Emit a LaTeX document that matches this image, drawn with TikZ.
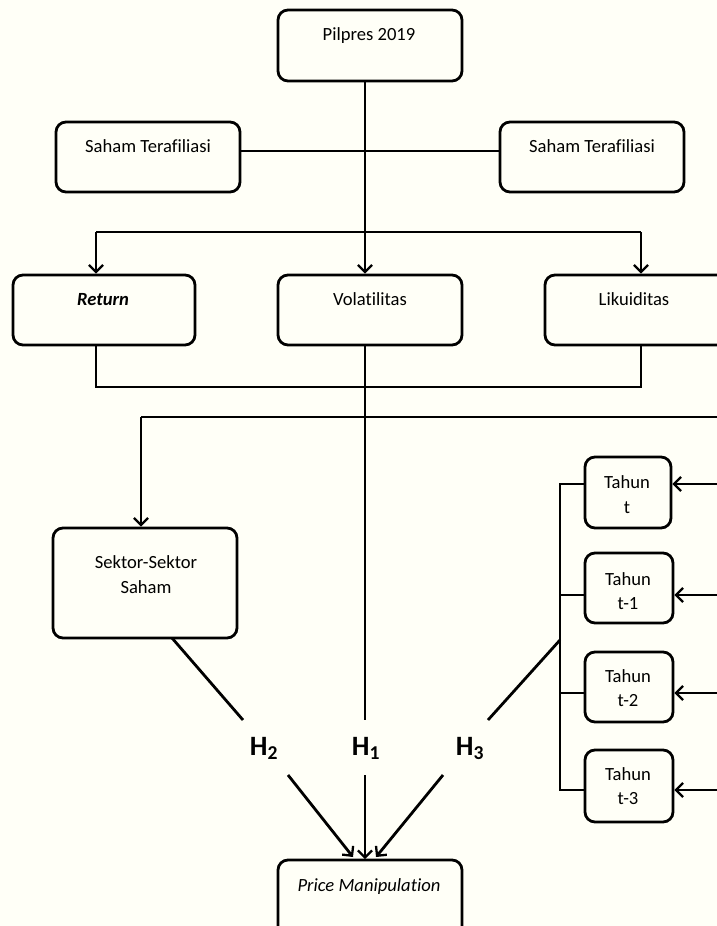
\documentclass[tikz,border=0pt]{standalone}
\usepackage{fontspec}
\setmainfont[Ligatures=NoCommon]{Carlito}
\usetikzlibrary{arrows.meta}
\begin{document}
\begin{tikzpicture}[x=1pt,y=-1pt, line width=2.8pt,
  box/.style={draw, rounded corners=10pt, line width=2.8pt, inner sep=0pt},
  lbl/.style={anchor=base, inner sep=0pt, font=\fontsize{18.6}{25}\selectfont},
  hyp/.style={anchor=base, inner sep=0pt, font=\fontsize{28}{30}\selectfont\bfseries},
  arr/.style={-{Straight Barb[length=7pt,width=14pt,line width=2.3pt]}},
]
\useasboundingbox (0,0) rectangle (717,926);
\clip (0,0) rectangle (717,926);
\fill[white!97!yellow] (0,0) rectangle (717,926);

% boxes
\node[box, minimum width=184pt, minimum height=71pt] (pil) at (370,45.5) {};
\node[box, minimum width=184pt, minimum height=70pt] (satl) at (148,157) {};
\node[box, minimum width=184pt, minimum height=70pt] (satr) at (592,157) {};
\node[box, minimum width=182pt, minimum height=70pt] (ret) at (104,310) {};
\node[box, minimum width=184pt, minimum height=70pt] (vol) at (370,310) {};
\node[box, minimum width=184pt, minimum height=70pt] (lik) at (637,310) {};
\node[box, minimum width=184pt, minimum height=110pt] (sek) at (145,583) {};
\node[box, minimum width=86pt, minimum height=71pt] (t0) at (628,492.5) {};
\node[box, minimum width=88pt, minimum height=70pt] (t1) at (629,588) {};
\node[box, minimum width=88pt, minimum height=70pt] (t2) at (629,687) {};
\node[box, minimum width=88pt, minimum height=72pt] (t3) at (629,786) {};
\node[box, minimum width=184pt, minimum height=80pt] (pm) at (370,900) {};

% texts
\node[lbl] (pilT) at (369,40) {Pilpres 2019};
\node[lbl] (satlT) at (148,152) {Saham Terafiliasi};
\node[lbl] (satrT) at (592,152) {Saham Terafiliasi};
\node[lbl, font=\fontsize{18.6}{25}\selectfont\bfseries\itshape] (retT) at (103,305) {Return};
\node[lbl] (volT) at (370,305) {Volatilitas};
\node[lbl] (likT) at (634,305) {Likuiditas};
\node[lbl] (sekT1) at (146,568) {Sektor-Sektor};
\node[lbl] (sekT2) at (146,593) {Saham};
\node[lbl] (t0a) at (627,488) {Tahun};
\node[lbl] (t0b) at (627,513) {t};
\node[lbl] (t1a) at (628,585) {Tahun};
\node[lbl] (t1b) at (628,609) {t-1};
\node[lbl] (t2a) at (628,682) {Tahun};
\node[lbl] (t2b) at (628,706) {t-2};
\node[lbl] (t3a) at (628,780) {Tahun};
\node[lbl] (t3b) at (628,804) {t-3};
\node[lbl, font=\fontsize{18.6}{25}\selectfont\itshape] (pmT) at (369,891) {Price Manipulation};
\node[hyp] (H2) at (264,755) {H\textsubscript{2}};
\node[hyp] (H1) at (366,755) {H\textsubscript{1}};
\node[hyp] (H3) at (470,755) {H\textsubscript{3}};

% top tree
\coordinate (hs) at (365,151);
\coordinate (j1) at (365,232);
\coordinate (jl) at (96,232);
\coordinate (jr) at (641,232);
\draw (pil.south -| j1) -- (j1);
\draw (hs -| satl.east) -- (hs -| satr.west);
\draw (jl) -- (jr);
\draw[arr] (jl) -- (jl |- ret.north);
\draw[arr] (j1) -- (j1 |- vol.north);
\draw[arr] (jr) -- (jr |- lik.north);

% lower joins
\coordinate (bl) at (96,387);
\coordinate (br) at (641,387);
\draw (bl |- ret.south) -- (bl) -- (br) -- (br |- lik.south);
\coordinate (h1top) at (365,720);
\draw (h1top |- vol.south) -- (h1top);
\coordinate (sk) at (141,417);
\coordinate (skr) at (725,417);
\draw (skr) -- (sk);
\draw[arr] (sk) -- (sk |- sek.north);

% H lines
\coordinate (d2a) at (172,638);
\coordinate (d2b) at (243,720);
\draw (d2a) -- (d2b);
\coordinate (d3a) at (560,640);
\coordinate (d3b) at (488,720);
\draw (d3a) -- (d3b);

\coordinate (a2s) at (288,775);
\coordinate (a2e) at (353,857);
\coordinate (a1s) at (365,775);
\coordinate (a1e) at (365,859);
\coordinate (a3s) at (443,775);
\coordinate (a3e) at (376,857);
\draw[arr] (a2s) -- (a2e);
\draw[arr] (a1s) -- (a1e);
\draw[arr] (a3s) -- (a3e);

% bracket
\coordinate (bt) at (560,484);
\coordinate (b1) at (560,595);
\coordinate (b2) at (560,693);
\coordinate (bb) at (560,790);
\draw (bt -| t0.west) -- (bt) -- (bb) -- (bb -| t3.west);
\draw (b1) -- (b1 -| t1.west);
\draw (b2) -- (b2 -| t2.west);

% right arrows
\coordinate (r0) at (725,484);
\coordinate (r1) at (725,595);
\coordinate (r2) at (725,693);
\coordinate (r3) at (725,790);
\draw[arr] (r0) -- (r0 -| t0.east);
\draw[arr] (r1) -- (r1 -| t1.east);
\draw[arr] (r2) -- (r2 -| t2.east);
\draw[arr] (r3) -- (r3 -| t3.east);
\end{tikzpicture}
\end{document}
